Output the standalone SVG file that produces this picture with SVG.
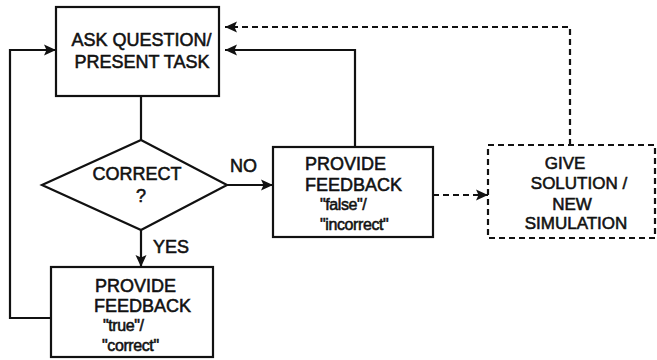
<svg xmlns="http://www.w3.org/2000/svg" width="657" height="360" viewBox="0 0 657 360">
  <defs>
    <marker id="arrow" markerUnits="userSpaceOnUse" markerWidth="12" markerHeight="12" viewBox="0 0 12 12" refX="12" refY="6" orient="auto">
      <path d="M0,0.5 L12,6 L0,11.5 L2.5,6 Z" fill="#111"/>
    </marker>
  </defs>
  <style>
    .box { fill: #fff; stroke: #111; stroke-width: 2.2; }
    .dbox { fill: #fff; stroke: #111; stroke-width: 2.2; stroke-dasharray: 6 4; }
    .wire { fill: none; stroke: #111; stroke-width: 2.2; }
    .dash { stroke-dasharray: 6 4; }
    text { font-family: "Liberation Sans", Arial, sans-serif; font-size: 18px; fill: #111; stroke: #111; stroke-width: 0.55; }
    .c { text-anchor: middle; }
    .s { font-size: 17px; }
    .q { font-size: 16px; letter-spacing: -0.4px; }
  </style>

  <rect width="657" height="360" fill="#fff"/>

  <!-- connectors -->
  <g id="connectors">
    <path class="wire" d="M141,96 V140"/>
    <path class="wire" d="M141,230 V267" marker-end="url(#arrow)"/>
    <path class="wire" d="M227,185 H273" marker-end="url(#arrow)"/>
    <path class="wire" d="M355,147 V50 H225" marker-end="url(#arrow)"/>
    <path class="wire" d="M51,318 H10 V50 H56" marker-end="url(#arrow)"/>
    <path class="wire dash" d="M433,195 H488" marker-end="url(#arrow)"/>
    <path class="wire dash" d="M570,145 V27 H225" marker-end="url(#arrow)"/>
    <text x="230" y="172">NO</text>
    <text x="153" y="253">YES</text>
  </g>

  <!-- ask question / present task -->
  <g id="ask">
    <rect class="box" x="56" y="7" width="163" height="89"/>
    <text class="c" x="141.5" y="46">ASK QUESTION/</text>
    <text class="c" x="142" y="68">PRESENT TASK</text>
  </g>

  <!-- decision -->
  <g id="correct">
    <polygon class="box" points="141,140 227,185 141,230 42,185"/>
    <text class="c" x="137" y="180">CORRECT</text>
    <text class="c" x="141" y="202">?</text>
  </g>

  <!-- feedback when correct -->
  <g id="feedback-true">
    <rect class="box" x="51" y="267" width="162" height="90"/>
    <text x="95" y="292">PROVIDE</text>
    <text x="94" y="312">FEEDBACK</text>
    <text class="q" x="103" y="331">"true"/</text>
    <text class="q" x="102" y="351">"correct"</text>
  </g>

  <!-- feedback when incorrect -->
  <g id="feedback-false">
    <rect class="box" x="273" y="147" width="160" height="90"/>
    <text x="305" y="170">PROVIDE</text>
    <text x="305" y="191">FEEDBACK</text>
    <text class="q" x="320" y="210">"false"/</text>
    <text class="q" x="320" y="230">"incorrect"</text>
  </g>

  <!-- solution / new simulation -->
  <g id="solution">
    <rect class="dbox" x="488" y="145" width="167" height="93"/>
    <text class="c s" x="565" y="169">GIVE</text>
    <text class="c s" x="579" y="189">SOLUTION /</text>
    <text class="c s" x="572" y="210">NEW</text>
    <text class="c s" x="576" y="229">SIMULATION</text>
  </g>
</svg>
